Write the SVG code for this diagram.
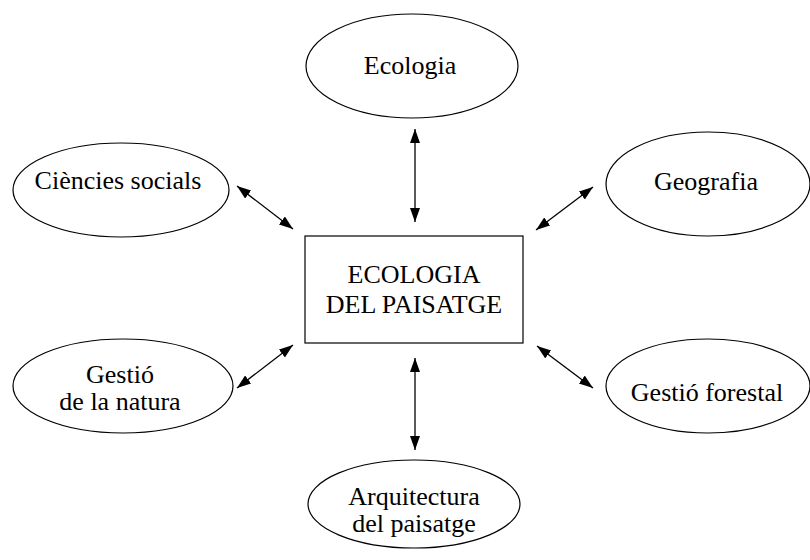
<svg xmlns="http://www.w3.org/2000/svg" width="810" height="560" viewBox="0 0 810 560">
<style>
.node ellipse, .node rect { fill: #fff; stroke: #000; stroke-width: 1.2; }
.node text { font-family: "Liberation Serif", "Times New Roman", Times, serif; font-size: 26px; fill: #000; text-anchor: middle; }
.conn line { stroke: #000; stroke-width: 1.3; marker-start: url(#ah); marker-end: url(#ah); }
</style>
<defs>
<marker id="ah" markerUnits="userSpaceOnUse" markerWidth="15" markerHeight="11" refX="14" refY="5" orient="auto-start-reverse" viewBox="0 0 15 11">
<path d="M0,0 L14,5 L0,10 z" fill="#000"/>
</marker>
</defs>
<rect width="810" height="560" fill="#fff"/>
<g id="center" class="node">
<rect x="305" y="236" width="218" height="107"/>
<text x="414" y="283">ECOLOGIA</text>
<text x="414" y="313">DEL PAISATGE</text>
</g>
<g id="ecologia" class="node">
<ellipse cx="412" cy="66" rx="106" ry="52"/>
<text x="410" y="74">Ecologia</text>
</g>
<g id="ciencies" class="node">
<ellipse cx="121" cy="190" rx="108" ry="47"/>
<text x="118" y="189">Ciències socials</text>
</g>
<g id="geografia" class="node">
<ellipse cx="708" cy="184" rx="102" ry="52"/>
<text x="706" y="190">Geografia</text>
</g>
<g id="gestio-natura" class="node">
<ellipse cx="123" cy="386" rx="110" ry="47"/>
<text x="120" y="383">Gestió</text>
<text x="120" y="410">de la natura</text>
</g>
<g id="gestio-forestal" class="node">
<ellipse cx="708" cy="386" rx="102" ry="47"/>
<text x="707" y="401">Gestió forestal</text>
</g>
<g id="arquitectura" class="node">
<ellipse cx="414" cy="504" rx="106" ry="44"/>
<text x="414" y="505">Arquitectura</text>
<text x="414" y="532">del paisatge</text>
</g>
<g id="connectors" class="conn">
<line x1="415" y1="129" x2="415" y2="222"/>
<line x1="415" y1="358" x2="415" y2="450"/>
<line x1="237" y1="186" x2="293" y2="229"/>
<line x1="293" y1="345" x2="237" y2="388"/>
<line x1="536" y1="230" x2="593" y2="187"/>
<line x1="537" y1="346" x2="593" y2="388"/>
</g>
</svg>
